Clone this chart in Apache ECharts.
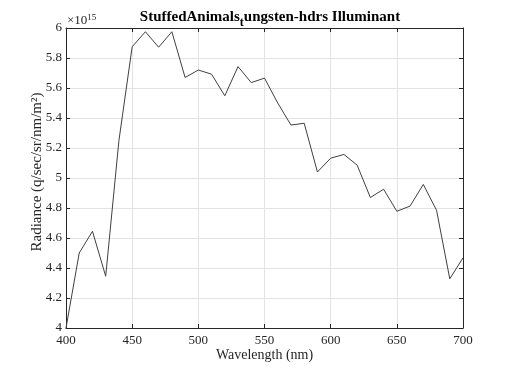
<!DOCTYPE html>
<html>
<head>
<meta charset="utf-8">
<script src="https://cdn.jsdelivr.net/npm/echarts@6/dist/echarts.min.js"></script>
<style>html,body{margin:0;padding:0;background:#fff}#c{width:512px;height:369px}</style>
</head>
<body>
<div id="c"></div>
<script>
// Wavelength (nm)
var wavelengths = [400,410,420,430,440,450,460,470,480,490,500,510,520,530,540,550,560,570,580,590,600,610,620,630,640,650,660,670,680,690,700];
// Radiance in units of 1e15 q/sec/sr/nm/m^2
var radiance = [4.00,4.50,4.645,4.345,5.25,5.875,5.975,5.872,5.975,5.67,5.72,5.692,5.548,5.743,5.636,5.666,5.50,5.353,5.365,5.04,5.132,5.157,5.086,4.87,4.925,4.778,4.813,4.957,4.785,4.328,4.468];
var xTicks = [400,450,500,550,600,650,700];
var yTicks = [4,4.2,4.4,4.6,4.8,5,5.2,5.4,5.6,5.8,6];

var FONT = 'Liberation Serif';
var chart = echarts.init(document.getElementById('c'), null, {renderer:'canvas'});
var axisCol = '#262626';
var gridCol = '#e3e3e3';
var data = wavelengths.map(function(w,i){return [w, radiance[i]];});

chart.setOption({
  animation:false,
  backgroundColor:'#fff',
  title:{
    text:'{a|StuffedAnimals}{s|t}{a|ungsten-hdrs Illuminant}',
    left:265, top:3, textAlign:'center',
    textStyle:{
      rich:{
        a:{fontFamily:FONT,fontWeight:'bold',fontSize:15,color:'#000',lineHeight:18},
        s:{fontFamily:FONT,fontWeight:'bold',fontSize:12,color:'#000',lineHeight:18,padding:[12,0,0,0]}
      }
    }
  },
  graphic:[{
    type:'text', left:67, top:13,
    style:{
      text:'{a|×10}{b|15}',
      rich:{
        a:{fontFamily:FONT,fontSize:13,fill:'#262626',lineHeight:16},
        b:{fontFamily:FONT,fontSize:9,fill:'#262626',lineHeight:16,padding:[0,0,7,0]}
      }
    }
  }],
  grid:{left:66,right:49,top:28,bottom:41,containLabel:false},
  xAxis:[{
    type:'value', min:400, max:700, interval:50,
    name:'Wavelength (nm)', nameLocation:'middle', nameGap:20, nameMoveOverlap:false,
    nameTextStyle:{fontFamily:FONT,fontSize:14,color:'#262626'},
    axisLine:{show:true,lineStyle:{color:axisCol,width:1}},
    axisTick:{show:true,inside:true,length:4,lineStyle:{color:axisCol}},
    axisLabel:{fontFamily:FONT,fontSize:13,color:'#262626',margin:6},
    splitLine:{show:true,lineStyle:{color:gridCol,width:1}}
  },{
    type:'value', position:'top', min:400, max:700, interval:50,
    axisLine:{show:true,lineStyle:{color:axisCol,width:1}},
    axisTick:{show:true,inside:true,length:4,lineStyle:{color:axisCol}},
    axisLabel:{show:false}, splitLine:{show:false}
  }],
  yAxis:[{
    type:'value', min:4, max:6, interval:0.2,
    name:'Radiance (q/sec/sr/nm/m²)', nameLocation:'middle', nameGap:21, nameMoveOverlap:false,
    nameTextStyle:{fontFamily:FONT,fontSize:15,color:'#262626',padding:[0,0,0,12]},
    axisLine:{show:true,lineStyle:{color:axisCol,width:1}},
    axisTick:{show:true,inside:true,length:4,lineStyle:{color:axisCol}},
    axisLabel:{fontFamily:FONT,fontSize:13,color:'#262626',margin:4,
      formatter:function(v){return String(Math.round(v*10)/10);}},
    splitLine:{show:true,lineStyle:{color:gridCol,width:1}}
  },{
    type:'value', position:'right', min:4, max:6, interval:0.2,
    axisLine:{show:true,lineStyle:{color:axisCol,width:1}},
    axisTick:{show:true,inside:true,length:4,lineStyle:{color:axisCol}},
    axisLabel:{show:false}, splitLine:{show:false}
  }],
  series:[{
    type:'line', data:data, xAxisIndex:0, yAxisIndex:0,
    showSymbol:false, symbol:'none',
    lineStyle:{color:'#404040',width:1}
  }]
});
</script>
</body>
</html>
